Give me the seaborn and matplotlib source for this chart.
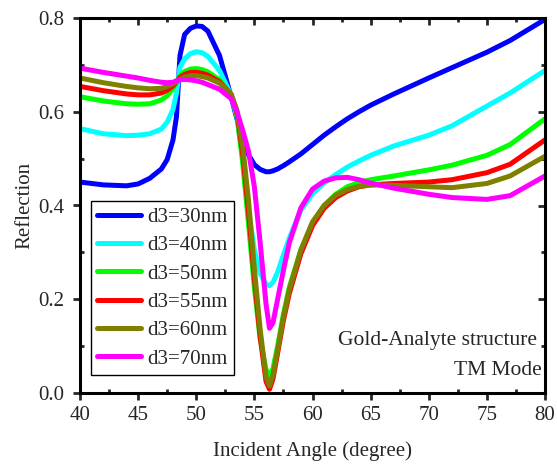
import numpy as np
import pandas as pd
import matplotlib
matplotlib.use("Agg")
import matplotlib.pyplot as plt
import seaborn as sns
from matplotlib.ticker import MultipleLocator, FormatStrFormatter

angle = [40, 42, 44, 45, 46, 47, 47.5, 48, 48.3, 48.6,
         49, 49.5, 50, 50.5, 51, 52, 53, 53.5, 54, 54.5,
         55, 55.5, 56, 56.3, 56.6, 57, 57.5, 58, 59, 60,
         61, 62, 63, 64, 65, 67, 70, 72, 75, 77, 80]

r_30 = [0.450, 0.444, 0.442, 0.446, 0.458, 0.478, 0.498, 0.540, 0.590, 0.720,
        0.765, 0.778, 0.783, 0.782, 0.772, 0.720, 0.632, 0.585, 0.545, 0.508,
        0.487, 0.477, 0.472, 0.472, 0.474, 0.478, 0.485, 0.493, 0.510, 0.530,
        0.550, 0.568, 0.585, 0.600, 0.614, 0.638, 0.672, 0.694, 0.727, 0.752, 0.797]
r_40 = [0.564, 0.553, 0.549, 0.550, 0.553, 0.563, 0.578, 0.605, 0.640, 0.695,
        0.713, 0.724, 0.728, 0.726, 0.718, 0.688, 0.636, 0.590, 0.500, 0.390,
        0.305, 0.255, 0.232, 0.229, 0.236, 0.258, 0.295, 0.330, 0.390, 0.425,
        0.448, 0.466, 0.482, 0.495, 0.507, 0.527, 0.550, 0.570, 0.612, 0.640, 0.688]
r_50 = [0.632, 0.623, 0.617, 0.616, 0.617, 0.625, 0.634, 0.650, 0.663, 0.677,
        0.686, 0.691, 0.692, 0.690, 0.685, 0.668, 0.636, 0.592, 0.490, 0.360,
        0.225, 0.115, 0.050, 0.037, 0.052, 0.100, 0.168, 0.225, 0.305, 0.363,
        0.400, 0.424, 0.440, 0.449, 0.455, 0.463, 0.476, 0.486, 0.507, 0.530, 0.585]
r_55 = [0.654, 0.645, 0.638, 0.636, 0.636, 0.640, 0.646, 0.655, 0.664, 0.673,
        0.680, 0.684, 0.684, 0.682, 0.678, 0.664, 0.637, 0.598, 0.510, 0.385,
        0.245, 0.120, 0.025, 0.008, 0.030, 0.085, 0.155, 0.212, 0.297, 0.357,
        0.394, 0.417, 0.431, 0.440, 0.444, 0.447, 0.450, 0.455, 0.470, 0.488, 0.540]
r_60 = [0.672, 0.662, 0.654, 0.651, 0.649, 0.650, 0.654, 0.659, 0.664, 0.669,
        0.674, 0.677, 0.677, 0.675, 0.672, 0.661, 0.638, 0.603, 0.525, 0.410,
        0.265, 0.135, 0.035, 0.015, 0.038, 0.092, 0.162, 0.220, 0.305, 0.365,
        0.400, 0.422, 0.434, 0.441, 0.444, 0.443, 0.440, 0.438, 0.447, 0.463, 0.505]
r_70 = [0.693, 0.684, 0.676, 0.672, 0.667, 0.663, 0.662, 0.663, 0.666, 0.668,
        0.669, 0.668, 0.666, 0.663, 0.658, 0.648, 0.628, 0.600, 0.560, 0.515,
        0.440, 0.320, 0.190, 0.138, 0.150, 0.200, 0.262, 0.320, 0.395, 0.435,
        0.452, 0.459, 0.460, 0.455, 0.448, 0.437, 0.424, 0.417, 0.413, 0.421, 0.463]

labels = ["d3=30nm", "d3=40nm", "d3=50nm", "d3=55nm", "d3=60nm", "d3=70nm"]
colors = ["#0000FF", "#00FFFF", "#00FF00", "#FF0000", "#808000", "#FF00FF"]
series = [r_30, r_40, r_50, r_55, r_60, r_70]

df = pd.concat([pd.DataFrame({"angle": angle, "R": s, "d3": lab})
                for s, lab in zip(series, labels)], ignore_index=True)

sns.set_style("ticks")
plt.rcParams["font.family"] = ["Liberation Serif", "DejaVu Serif"]
plt.rcParams["mathtext.fontset"] = "stix"

fig = plt.figure(figsize=(5.57, 4.65), dpi=100)
ax = fig.add_axes([80/557, 1-393/465, 465/557, 375/465])

sns.lineplot(data=df, x="angle", y="R", hue="d3", palette=dict(zip(labels, colors)),
             hue_order=labels, linewidth=3.6, estimator=None, sort=False, ax=ax)

ax.set_xlim(40, 80)
ax.set_ylim(0, 0.8)
ax.xaxis.set_major_locator(MultipleLocator(5))
ax.xaxis.set_minor_locator(MultipleLocator(2.5))
ax.yaxis.set_major_locator(MultipleLocator(0.2))
ax.yaxis.set_minor_locator(MultipleLocator(0.1))
ax.yaxis.set_major_formatter(FormatStrFormatter("%.1f"))

for sp in ax.spines.values():
    sp.set_visible(True)
    sp.set_linewidth(2.2)
    sp.set_color("black")

ax.tick_params(which="major", direction="out", length=5, width=2, labelsize=15, pad=4)
ax.tick_params(axis="y", which="major", pad=6)
ax.tick_params(which="minor", direction="in", length=3, width=2)

secx = ax.secondary_xaxis("top")
secx.xaxis.set_major_locator(MultipleLocator(5))
secx.xaxis.set_minor_locator(MultipleLocator(2.5))
secx.tick_params(which="major", direction="in", length=5, width=2, labeltop=False)
secx.tick_params(which="minor", direction="in", length=3, width=2)
secx.spines["top"].set_visible(False)
secy = ax.secondary_yaxis("right")
secy.yaxis.set_major_locator(MultipleLocator(0.2))
secy.yaxis.set_minor_locator(MultipleLocator(0.1))
secy.tick_params(which="major", direction="in", length=5, width=2, labelright=False)
secy.tick_params(which="minor", direction="in", length=3, width=2)
secy.spines["right"].set_visible(False)

ax.set_xlabel("Incident Angle (degree)", fontsize=15, labelpad=12)
ax.set_ylabel("Reflection", fontsize=15, labelpad=3)

leg = ax.legend(loc="lower left", bbox_to_anchor=(0.024, 0.048), fontsize=15,
                frameon=True, fancybox=False, edgecolor="black", framealpha=1,
                handlelength=2.1, handletextpad=0.3, labelspacing=0.42,
                borderpad=0.3, borderaxespad=0)
leg.get_frame().set_linewidth(1.0)
for h in leg.get_lines():
    h.set_linewidth(3.6)

ax.text(0.983, 0.141, "Gold-Analyte structure", transform=ax.transAxes,
        ha="right", va="center", fontsize=15.5)
ax.text(0.992, 0.061, "TM Mode", transform=ax.transAxes,
        ha="right", va="center", fontsize=15.5)

fig.savefig("out.png", dpi=100)
